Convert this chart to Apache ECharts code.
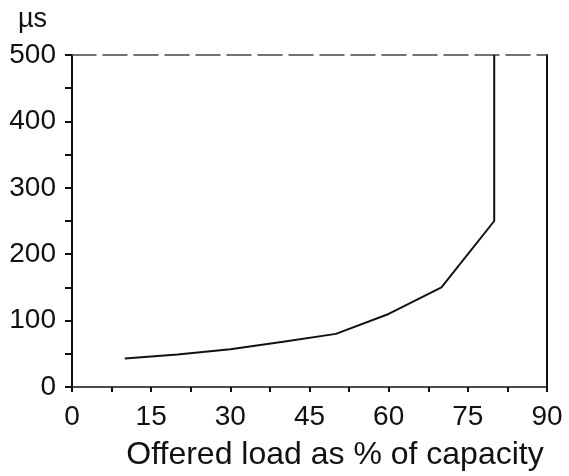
<!DOCTYPE html>
<html>
<head>
<meta charset="utf-8">
<script src="https://cdn.jsdelivr.net/npm/echarts@6/dist/echarts.min.js"></script>
<style>
  html, body { margin: 0; padding: 0; background: #fff; }
  #chart { width: 569px; height: 476px; }
</style>
</head>
<body>
<div id="chart"></div>
<script>
// Offered load (% of capacity) and the resulting delay in microseconds
const loadPercent = [10, 20, 30, 40, 50, 60, 70, 80, 80];
const delayMicros = [43, 49, 57, 68, 80, 110, 150, 250, 500];
const xTickLabels = [0, 15, 30, 45, 60, 75, 90];
const yTickLabels = [0, 100, 200, 300, 400, 500];

const FONT = '"Liberation Sans", Arial, Helvetica, sans-serif';
const points = loadPercent.map((x, i) => [x, delayMicros[i]]);

const chart = echarts.init(document.getElementById('chart'));
chart.setOption({
  animation: false,
  backgroundColor: '#ffffff',
  grid: { left: 72, right: 22, top: 55, bottom: 89 },
  xAxis: [{
    type: 'value',
    min: xTickLabels[0],
    max: xTickLabels[xTickLabels.length - 1],
    interval: 15,
    name: 'Offered load as % of capacity',
    nameLocation: 'middle',
    nameGap: 52,
    nameTextStyle: { fontFamily: FONT, fontSize: 32, color: '#111', padding: [0, 0, 0, 51] },
    axisLine: { show: true, onZero: false, lineStyle: { color: '#111', width: 1.5 } },
    axisTick: { show: true, inside: false, length: 5, lineStyle: { color: '#111', width: 2 } },
    minorTick: { show: true, splitNumber: 2, length: 5, lineStyle: { color: '#111', width: 2 } },
    axisLabel: { fontFamily: FONT, fontSize: 28, color: '#111', margin: 16 },
    splitLine: { show: false }
  }, {
    type: 'value',
    position: 'top',
    min: xTickLabels[0],
    max: xTickLabels[xTickLabels.length - 1],
    axisLine: { show: true, onZero: false, lineStyle: { color: '#444', width: 1.5, type: [24, 7] } },
    axisTick: { show: false },
    axisLabel: { show: false },
    splitLine: { show: false }
  }],
  yAxis: [{
    type: 'value',
    min: yTickLabels[0],
    max: yTickLabels[yTickLabels.length - 1],
    interval: 100,
    name: 'µs',
    nameLocation: 'end',
    nameGap: 22,
    nameTextStyle: { fontFamily: FONT, fontSize: 27, color: '#111', align: 'right', padding: [0, 25, 0, 0] },
    axisLine: { show: true, onZero: false, lineStyle: { color: '#111', width: 2 } },
    axisTick: { show: true, inside: false, length: 7, lineStyle: { color: '#111', width: 2 } },
    minorTick: { show: true, splitNumber: 2, length: 7, lineStyle: { color: '#111', width: 2 } },
    axisLabel: { fontFamily: FONT, fontSize: 28, color: '#111', margin: 16 },
    splitLine: { show: false }
  }, {
    type: 'value',
    position: 'right',
    min: yTickLabels[0],
    max: yTickLabels[yTickLabels.length - 1],
    axisLine: { show: true, onZero: false, lineStyle: { color: '#111', width: 2 } },
    axisTick: { show: false },
    axisLabel: { show: false },
    splitLine: { show: false }
  }],
  series: [{
    type: 'line',
    data: points,
    showSymbol: false,
    symbol: 'none',
    lineStyle: { color: '#111', width: 2 }
  }]
});
</script>
</body>
</html>
